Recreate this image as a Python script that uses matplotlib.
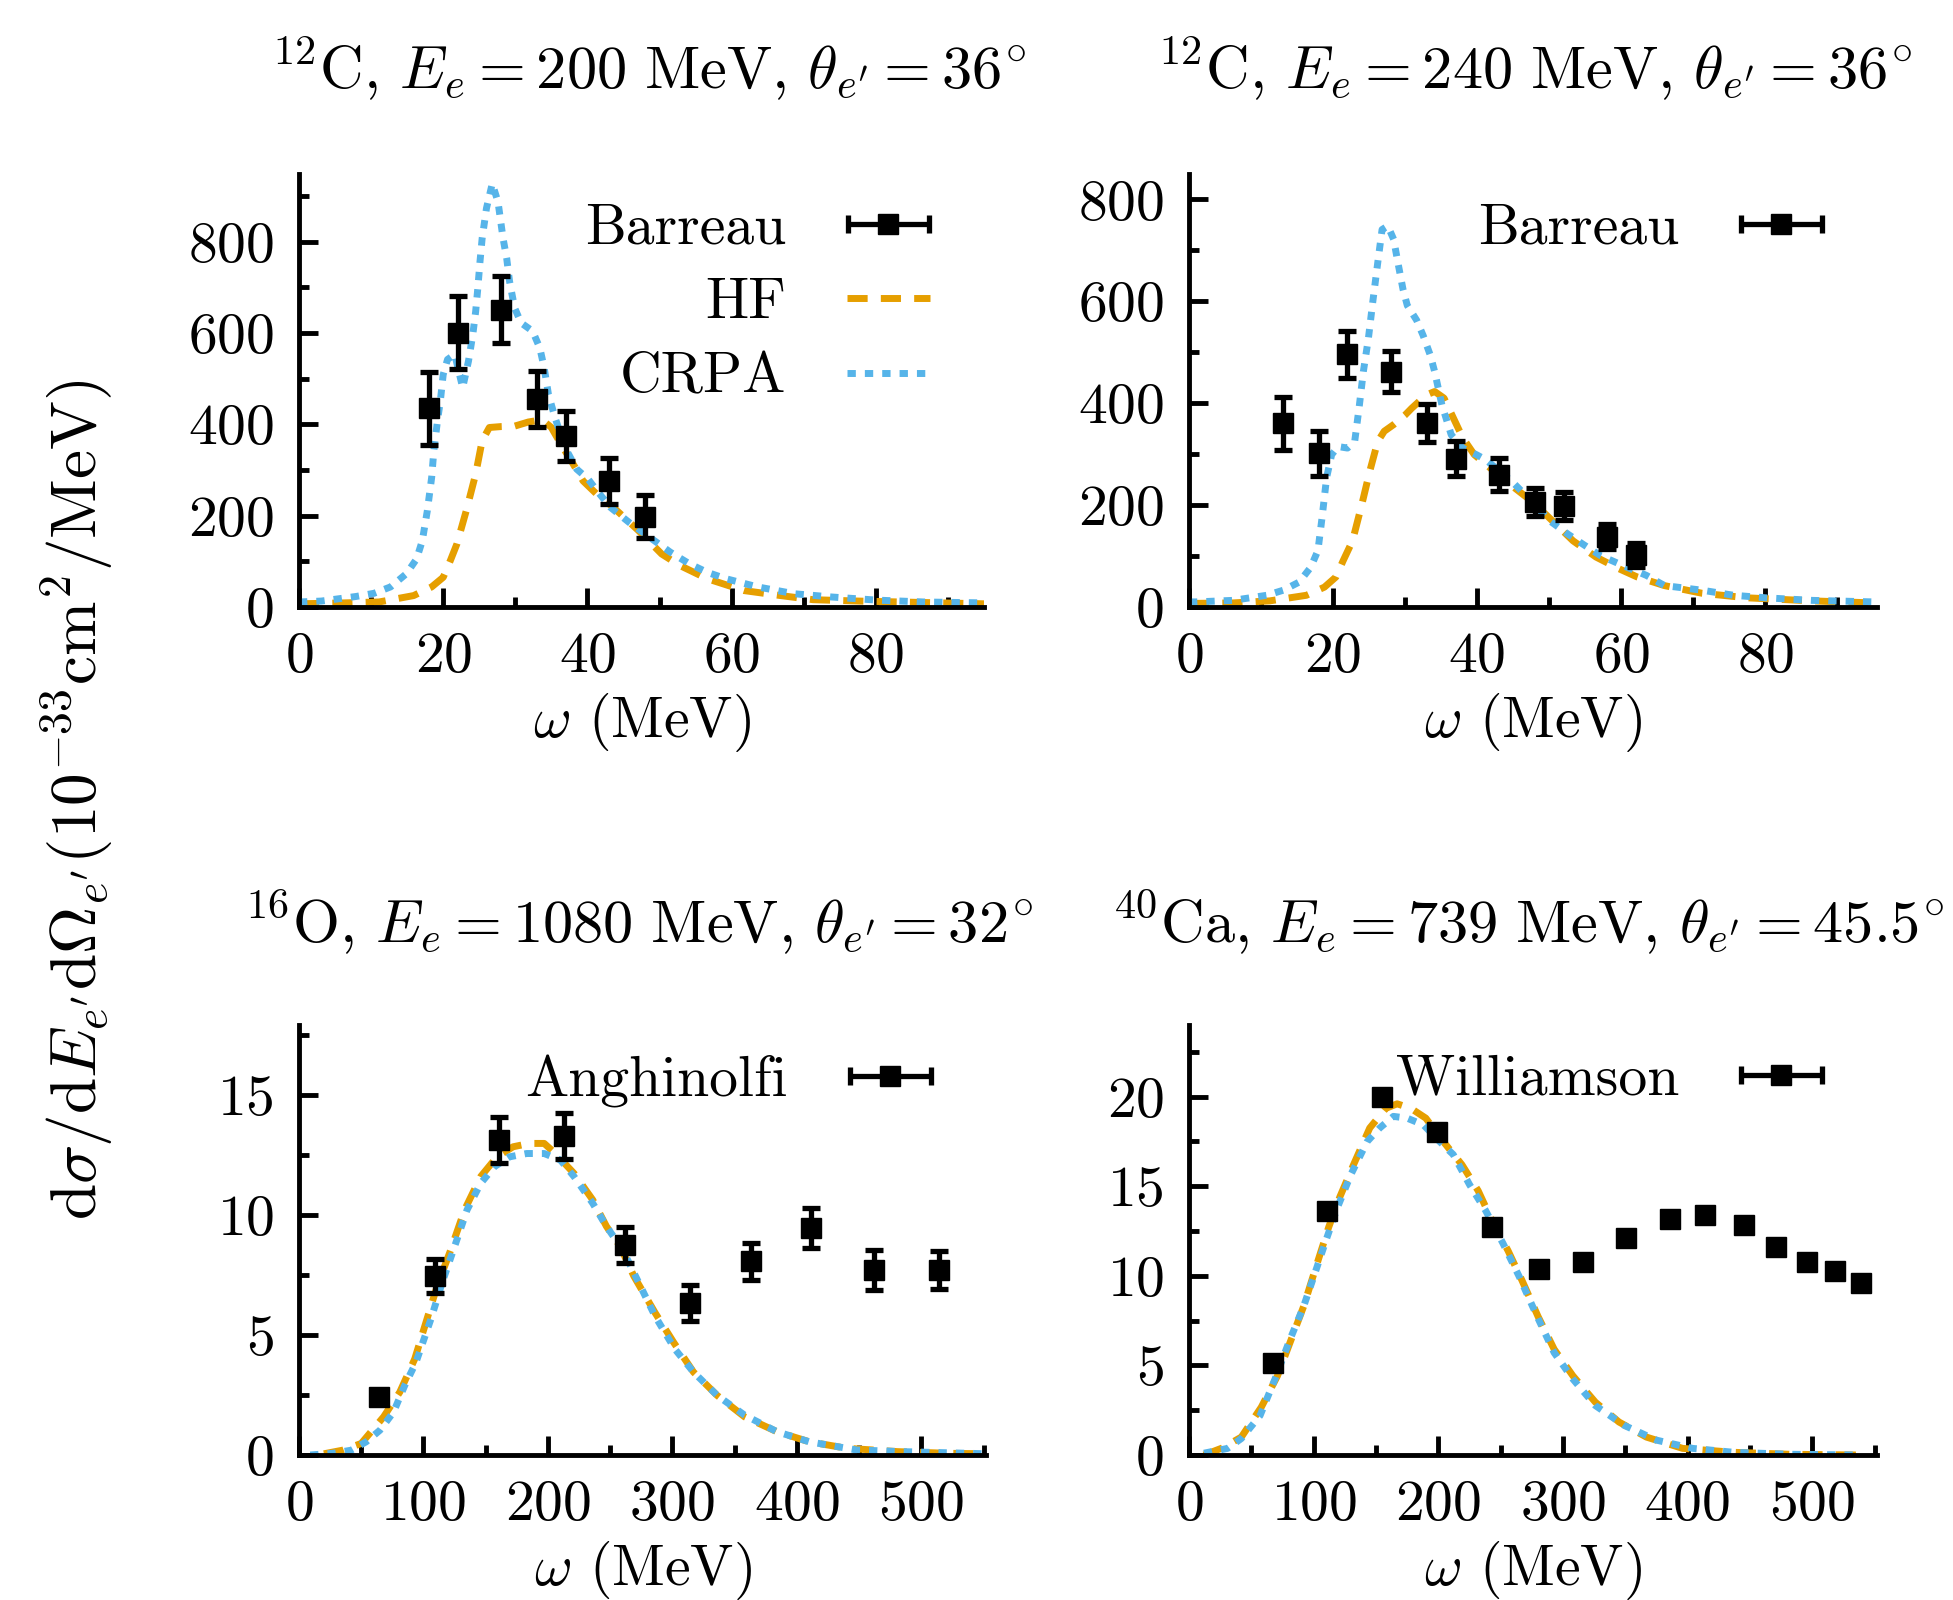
import matplotlib
matplotlib.use("Agg")
from matplotlib import pyplot as plt
from matplotlib.ticker import MultipleLocator
from matplotlib.legend_handler import HandlerErrorbar
import numpy as np

plt.rcParams['font.family'] = 'serif'
plt.rcParams['font.serif'] = ['cmr10']
plt.rcParams['mathtext.fontset'] = 'cm'
plt.rcParams['axes.formatter.use_mathtext'] = True
plt.rcParams['font.size'] = 40

HF_COLOR = '#E69F00'
CRPA_COLOR = '#56B4E9'

# --- panel 1: 12C, 200 MeV, 36 deg ---
p1_exp_w = [18, 22, 28, 33, 37, 43, 48]
p1_exp_y = [435, 600, 651, 455, 375, 276, 198]
p1_exp_err = [80, 80, 73, 62, 55, 50, 47]
p1_hf_w = [0, 6.3, 11.1, 15.9, 18.4, 20.0, 21.0, 21.9, 23.2, 24.5, 25.4, 26.4, 28.0, 29.9,
           31.8, 33.7, 35.0, 36.6, 37.5, 39.4, 41.3, 43.6, 47.1, 50.3, 52.8, 56.6, 61.7,
           66.8, 71.3, 77.6, 89.1, 95]
p1_hf_y = [7, 9, 11, 25, 44, 65, 102, 138, 211, 291, 364, 393, 395, 396, 405, 410, 393, 349,
           327, 276, 247, 218, 167, 116, 91, 62, 36, 25, 16, 13, 9, 7]
p1_crpa_w = [0, 3.1, 7.9, 10.4, 12.7, 14.9, 16.3, 17.1, 17.8, 18.4, 18.7, 19.2, 19.6, 20.0,
             20.6, 21.6, 22.7, 23.5, 24.1, 24.5, 24.8, 25.1, 25.4, 26.0, 26.8, 27.6, 28.3,
             28.8, 29.2, 29.9, 30.8, 32.4, 33.4, 34.0, 34.6, 35.5, 36.9, 38.5, 40.1, 41.3,
             43.2, 45.8, 49.3, 51.5, 54.1, 56.6, 59.2, 63.6, 68.7, 73.8, 80.2, 86.6, 95]
p1_crpa_y = [11, 13, 23, 30, 44, 73, 105, 145, 211, 284, 342, 407, 451, 509, 542, 553, 480,
             538, 596, 647, 698, 756, 807, 873, 927, 887, 807, 764, 713, 655, 622, 604, 567,
             524, 465, 415, 349, 302, 280, 255, 218, 185, 145, 120, 95, 76, 62, 44, 29, 22,
             15, 11, 9]

# --- panel 2: 12C, 240 MeV, 36 deg ---
p2_exp_w = [13, 18, 22, 28, 33, 37, 43, 48, 52, 58, 62]
p2_exp_y = [361, 302, 496, 462, 361, 291, 260, 206, 198, 138, 102]
p2_exp_err = [52, 44, 46, 40, 37, 34, 32, 28, 27, 25, 23]
p2_hf_w = [0, 6.1, 11.2, 16.3, 18.8, 20.4, 21.4, 22.7, 24.0, 25.1, 26.2, 27.1, 28.4, 30.0,
           30.9, 32.9, 34.1, 35.4, 36.7, 38.0, 39.6, 41.8, 44.0, 46.9, 49.5, 51.4, 53.3,
           56.5, 59.7, 62.2, 66.0, 71.2, 77.5, 86.5, 95]
p2_hf_y = [7, 8, 12, 23, 39, 59, 91, 130, 202, 267, 325, 345, 358, 377, 390, 416, 423, 410,
           371, 332, 299, 273, 247, 215, 182, 156, 130, 98, 75, 59, 42, 27, 18, 12, 8]
p2_crpa_w = [0, 1.0, 6.1, 10.8, 13.1, 15.3, 16.9, 17.9, 18.5, 19.1, 19.8, 20.7, 22.0, 23.0,
             23.6, 24.2, 24.9, 25.5, 26.2, 26.8, 27.6, 28.4, 29.0, 29.7, 30.3, 31.6, 32.5,
             33.5, 34.1, 35.1, 36.4, 38.0, 39.9, 41.2, 43.1, 45.0, 46.6, 48.2, 50.1, 52.6,
             54.6, 57.1, 60.3, 63.5, 66.0, 71.2, 75.6, 80.1, 86.5, 95]
p2_crpa_y = [10, 10, 13, 23, 33, 49, 78, 111, 179, 254, 299, 315, 312, 325, 390, 462, 527,
             598, 676, 741, 748, 722, 676, 624, 592, 563, 533, 494, 462, 397, 338, 312, 299,
             289, 267, 244, 221, 198, 169, 143, 124, 101, 81, 62, 42, 33, 23, 18, 13, 10]

# --- panel 3: 16O, 1080 MeV, 32 deg ---
p3_exp_w = [64, 109, 161, 213, 262, 314, 363, 411, 462, 514]
p3_exp_y = [2.41, 7.45, 13.1, 13.27, 8.76, 6.32, 8.07, 9.45, 7.70, 7.70]
p3_exp_err = [0.3, 0.7, 0.95, 0.95, 0.75, 0.75, 0.77, 0.83, 0.85, 0.78]
p3_hf_w = [20, 35, 50, 68, 81, 93, 102, 111, 122, 133, 146, 159, 172, 185, 197, 206, 221,
           236, 247, 258, 269, 286, 301, 317, 336, 358, 384, 410, 440, 481, 522, 553]
p3_hf_y = [0.05, 0.2, 0.48, 1.59, 2.62, 4.0, 5.52, 7.03, 8.55, 10.2, 11.59, 12.41, 12.83,
           12.97, 12.97, 12.55, 11.72, 10.62, 9.52, 8.69, 7.45, 5.93, 4.69, 3.45, 2.48, 1.59,
           0.97, 0.55, 0.28, 0.14, 0.07, 0.05]
p3_crpa_w = [9, 27, 42, 54, 65, 76, 85, 94, 106, 115, 126, 135, 146, 157, 169, 183, 197,
             210, 221, 236, 247, 260, 273, 286, 302, 317, 336, 358, 384, 410, 448, 485, 553]
p3_crpa_y = [0.0, 0.07, 0.2, 0.55, 1.03, 1.79, 2.9, 3.86, 5.66, 7.17, 8.83, 10.2, 11.31,
             12.0, 12.41, 12.55, 12.55, 12.28, 11.59, 10.48, 9.52, 8.55, 7.17, 5.79, 4.41,
             3.45, 2.48, 1.66, 0.97, 0.55, 0.21, 0.14, 0.05]

# --- panel 4: 40Ca, 739 MeV, 45.5 deg ---
p4_exp_w = [67, 111, 154.5, 199, 243, 281, 316, 351, 386, 414, 445, 471, 496, 518, 539]
p4_exp_y = [5.16, 13.6, 20.0, 18.03, 12.72, 10.36, 10.78, 12.11, 13.18, 13.4, 12.85, 11.61,
            10.78, 10.27, 9.59]
p4_hf_w = [12, 27, 42, 58, 71, 82, 92, 101, 112, 121, 132, 145, 158, 167, 178, 190, 204,
           219, 232, 243, 256, 267, 280, 293, 308, 326, 345, 367, 396, 437, 482, 537]
p4_hf_y = [0.0, 0.4, 1.0, 2.67, 4.42, 6.45, 8.3, 10.3, 12.7, 14.4, 16.2, 18.25, 19.35, 19.6,
           19.35, 18.8, 17.5, 16.2, 14.75, 13.1, 11.4, 9.77, 7.74, 5.9, 4.42, 2.95, 1.84,
           1.0, 0.37, 0.15, 0.04, 0.0]
p4_crpa_w = [12, 31, 42, 57, 69, 80, 92, 101, 110, 119, 130, 143, 153, 164, 175, 188, 201,
             212, 225, 238, 252, 265, 278, 293, 308, 326, 349, 375, 404, 437, 482, 537]
p4_crpa_y = [0.1, 0.37, 0.92, 2.2, 4.24, 6.27, 8.3, 10.14, 12.0, 13.8, 15.67, 17.5, 18.25,
             18.9, 18.8, 18.43, 17.5, 16.77, 15.1, 13.64, 11.8, 9.95, 7.93, 5.71, 4.24, 2.76,
             1.66, 0.83, 0.37, 0.15, 0.04, 0.0]

titles = [r'$^{12}\mathrm{C},\, E_e = 200\ \mathrm{MeV},\, \theta_{e^\prime} = 36^{\!\circ}$',
          r'$^{12}\mathrm{C},\, E_e = 240\ \mathrm{MeV},\, \theta_{e^\prime} = 36^{\!\circ}$',
          r'$^{16}\mathrm{O},\, E_e = 1080\ \mathrm{MeV},\, \theta_{e^\prime} = 32^{\!\circ}$',
          r'$^{40}\mathrm{Ca},\, E_e = 739\ \mathrm{MeV},\, \theta_{e^\prime} = 45.5^{\!\circ}$']
title_x = [649, 1535, 639, 1528]
exp_names = ['Barreau', 'Barreau', 'Anghinolfi', 'Williamson']

fig = plt.figure(figsize=(19.53, 16), dpi=100)
W, H = 1953, 1600
boxes = [(299, 174, 984, 607), (1189, 174, 1877, 607),
         (299, 1025, 986, 1455), (1189, 1025, 1877, 1455)]
axes = []
for (x0, y0, x1, y1) in boxes:
    axes.append(fig.add_axes([x0 / W, 1 - y1 / H, (x1 - x0) / W, (y1 - y0) / H]))

panels = [
    (p1_exp_w, p1_exp_y, p1_exp_err, p1_hf_w, p1_hf_y, p1_crpa_w, p1_crpa_y),
    (p2_exp_w, p2_exp_y, p2_exp_err, p2_hf_w, p2_hf_y, p2_crpa_w, p2_crpa_y),
    (p3_exp_w, p3_exp_y, p3_exp_err, p3_hf_w, p3_hf_y, p3_crpa_w, p3_crpa_y),
    (p4_exp_w, p4_exp_y, None, p4_hf_w, p4_hf_y, p4_crpa_w, p4_crpa_y),
]
xlims = [(0, 95), (0, 95.5), (0, 552), (0, 552)]
ylims = [(0, 948), (0, 850), (0, 17.9), (0, 24)]
xmaj = [20, 20, 100, 100]
ymaj = [200, 200, 5, 5]

for i, ax in enumerate(axes):
    ew, ey, eerr, hw, hy, cw, cy = panels[i]
    hf, = ax.plot(hw, hy, color=HF_COLOR, lw=5, dashes=(2.9, 1.9), dash_capstyle='butt',
                  label='HF')
    crpa, = ax.plot(cw, cy, color=CRPA_COLOR, lw=5, dashes=(1.2, 1.3), dash_capstyle='butt',
                    label='CRPA')
    ax.errorbar(ew, ey, yerr=eerr, fmt='s', color='black', ms=14, elinewidth=3.8,
                capsize=6.5, capthick=3.8, zorder=5)
    proxy = ax.errorbar([np.nan], [np.nan], xerr=[1], fmt='s', color='black', ms=14,
                        elinewidth=3.8, capsize=6.5, capthick=3.8)
    if i == 0:
        handles = [proxy, hf, crpa]
        labels = [exp_names[i], 'HF', 'CRPA']
    else:
        handles = [proxy]
        labels = [exp_names[i]]
    ax.legend(handles, labels, loc='upper right', markerfirst=False, frameon=False,
              fontsize=41.5, handlelength=1.45, handletextpad=1.05, labelspacing=0.4,
              bbox_to_anchor=(0.955, 0.985), borderaxespad=0.0,
              handler_map={proxy: HandlerErrorbar(xerr_size=0.7)})

    ax.set_xlim(*xlims[i])
    ax.set_ylim(*ylims[i])
    ax.xaxis.set_major_locator(MultipleLocator(xmaj[i]))
    ax.xaxis.set_minor_locator(MultipleLocator(xmaj[i] / 2))
    ax.yaxis.set_major_locator(MultipleLocator(ymaj[i]))
    ax.yaxis.set_minor_locator(MultipleLocator(ymaj[i] / 2))
    for s in ['top', 'right']:
        ax.spines[s].set_visible(False)
    for s in ['left', 'bottom']:
        ax.spines[s].set_linewidth(3.5)
    ax.tick_params(which='major', direction='in', length=14, width=3.5, pad=18, labelsize=41.5)
    ax.tick_params(which='minor', direction='in', length=7, width=3.5)
    ax.set_xlabel(r'$\omega$ (MeV)', fontsize=41.5, labelpad=6)

    ty = 69 if i < 2 else 922
    fig.text(title_x[i] / W, 1 - ty / H, titles[i], ha='center', va='center', fontsize=43.5)

fig.text(77 / W, 0.5,
         r'$\mathrm{d}\sigma/\mathrm{d}E_{e^\prime}\mathrm{d}\Omega_{e^\prime}(10^{-33}\mathrm{cm}^2/\mathrm{MeV})$',
         rotation=90, ha='center', va='center', fontsize=47)

fig.savefig('out.png', dpi=100)
